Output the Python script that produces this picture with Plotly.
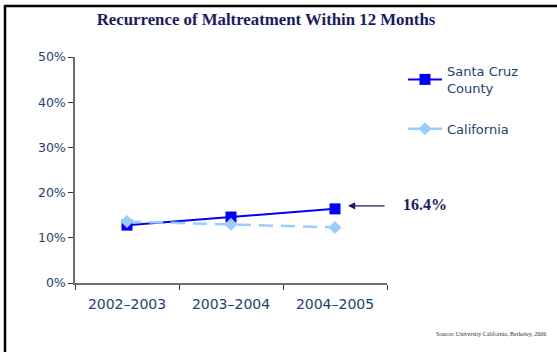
import plotly.graph_objects as go

# Fiscal-year categories and recurrence rates
periods = ["2002\u20132003", "2003\u20132004", "2004\u20132005"]
santa_cruz = [0.128, 0.146, 0.164]
california = [0.136, 0.130, 0.123]
y_ticks = [0, 0.1, 0.2, 0.3, 0.4, 0.5]

W, H = 557, 352
L, R, T, B = 75, 170, 57, 69
PW, PH = W - L - R, H - T - B


def px_x(p):
    """Pixel column -> paper x."""
    return (p - L) / PW


def px_y(p):
    """Pixel row -> paper y."""
    return (H - B - p) / PH


tick_color = "#213f74"
navy = "#1a1a66"

fig = go.Figure()
fig.add_trace(go.Scatter(
    x=periods, y=santa_cruz, name="Santa Cruz<br>County",
    legendgroup="county", mode="lines+markers",
    line=dict(color="#0000ff", width=2),
    marker=dict(symbol="square", size=11, color="#0000ff"),
))
fig.add_trace(go.Scatter(
    x=periods, y=california, name="California",
    legendgroup="state", mode="lines+markers",
    line=dict(color="#99ccff", width=2.5, dash="14px,8px"),
    marker=dict(symbol="diamond", size=10, color="#99ccff"),
))

# Callout for the latest county value
last = santa_cruz[-1]
fig.add_annotation(
    x=periods[-1], y=last, xref="x", yref="y", yshift=3,
    ax=51, ay=0, text="", showarrow=True, arrowhead=2, arrowsize=1.2,
    arrowwidth=1.2, arrowcolor=navy, standoff=13, startstandoff=0,
)
fig.add_annotation(
    x=px_x(401), y=last, xref="paper", yref="y", yshift=4,
    xanchor="left", yanchor="middle", showarrow=False,
    text=f"<b>{last * 100:.1f}%</b>",
    font=dict(family="Liberation Serif", size=16, color=navy),
)
fig.add_annotation(
    x=px_x(548), y=px_y(334), xref="paper", yref="paper",
    xanchor="right", yanchor="middle", showarrow=False,
    text="Source: University California, Berkeley, 2006",
    font=dict(family="Liberation Serif", size=6, color="#333333"),
)

# Frame lines along the top and left edges
fig.add_shape(type="line", xref="paper", yref="paper",
              x0=px_x(4), x1=px_x(W + 2), y0=px_y(6), y1=px_y(6),
              line=dict(color="black", width=2.5))
fig.add_shape(type="line", xref="paper", yref="paper",
              x0=px_x(5), x1=px_x(5), y0=px_y(5), y1=px_y(H + 2),
              line=dict(color="black", width=2.5))

fig.update_layout(
    width=W, height=H,
    margin=dict(l=L, r=R, t=T, b=B),
    paper_bgcolor="white", plot_bgcolor="white",
    title=dict(
        text="<b>Recurrence of Maltreatment Within 12 Months</b>",
        x=266 / W, xanchor="center", y=1 - 19 / H, yanchor="middle",
        font=dict(family="Liberation Serif", size=16.8, color=navy),
    ),
    showlegend=True,
    legend=dict(
        x=px_x(403), y=px_y(56), xanchor="left", yanchor="top",
        font=dict(family="DejaVu Sans", size=13, color=tick_color),
        traceorder="grouped", tracegroupgap=21, bgcolor="rgba(0,0,0,0)",
        itemwidth=34,
    ),
    font=dict(family="DejaVu Sans", color=tick_color),
)
fig.update_xaxes(
    type="category", range=[-0.5, 2.5],
    showline=True, linecolor="#6e6e6e", linewidth=1.5,
    ticks="outside", tickson="boundaries", ticklen=5, tickcolor="#333333",
    showgrid=False, zeroline=False, ticklabelstandoff=7,
    tickfont=dict(family="DejaVu Sans", size=14, color=tick_color),
)
fig.update_yaxes(
    range=[0, 0.5], tickvals=y_ticks, tickformat=".0%",
    showline=True, linecolor="#6e6e6e", linewidth=1.5,
    ticks="outside", ticklen=5, tickcolor="#333333",
    showgrid=False, zeroline=False,
    tickfont=dict(family="DejaVu Sans", size=12.5, color=tick_color),
)

fig.write_html("out.html")
